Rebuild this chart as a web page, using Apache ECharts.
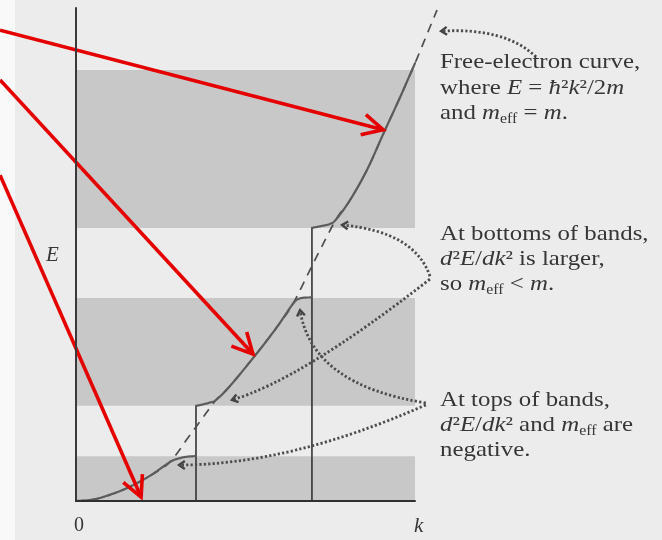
<!DOCTYPE html>
<html>
<head>
<meta charset="utf-8">
<script src="https://cdn.jsdelivr.net/npm/echarts@6/dist/echarts.min.js"></script>
<style>
  html, body { margin: 0; padding: 0; }
  body { width: 662px; height: 540px; background: #ececec; position: relative; overflow: hidden; }
  #strip { position: absolute; left: 0; top: 0; width: 15px; height: 540px; background: #f9f9f9; }
  #chart { position: absolute; left: 0; top: 0; width: 662px; height: 540px; }
</style>
</head>
<body>
<div id="strip"></div>
<div id="chart"></div>
<script>
// Wave number and energy ranges (arbitrary units)
const kMax = 10;
const eMax = 10;

// Allowed energy bands (bottom / top)
const bandBottom = [0, 1.93, 5.54];
const bandTop = [0.91, 4.12, 8.74];

// Zone boundaries and the height of the vertical marker at each
const zoneK = [3.54, 6.96];
const zoneLineTop = [1.93, 5.54];

// E(k) inside each band
const band1K = [0, 0.41, 0.80, 1.50, 2.18, 2.77, 3.07, 3.30, 3.54];
const band1E = [0, 0.02, 0.08, 0.26, 0.51, 0.79, 0.87, 0.90, 0.91];
const band2K = [3.54, 3.75, 3.96, 4.13, 4.54, 5.34, 5.93, 6.40, 6.61, 6.96];
const band2E = [1.93, 1.96, 2.00, 2.05, 2.33, 3.00, 3.53, 4.00, 4.11, 4.13];
const band3K = [6.96, 7.26, 7.49, 7.67, 8.08, 8.58, 9.06, 9.56, 10.0];
const band3E = [5.54, 5.58, 5.62, 5.71, 6.10, 6.71, 7.44, 8.19, 8.88];

// Free-electron curve
const freeK = [0, 0.41, 0.80, 1.50, 2.18, 2.77, 3.30, 3.72, 4.13, 4.54, 5.34, 5.93, 6.40, 7.02, 7.67, 8.08, 8.58, 9.06, 9.56, 10.0, 10.32, 10.65];
const freeE = [0, 0.02, 0.08, 0.26, 0.51, 0.79, 1.28, 1.67, 2.05, 2.33, 3.00, 3.53, 4.00, 4.85, 5.71, 6.10, 6.71, 7.44, 8.19, 8.88, 9.41, 9.96];

// Dotted pointer curves: start, control point, end (k, E)
const pointerStart = [[13.57, 9.01], [10.44, 4.56], [10.44, 4.50], [10.32, 1.99], [10.32, 1.95]];
const pointerCtrl  = [[12.65, 9.61], [10.00, 5.46], [6.61, 2.45], [6.96, 2.35], [6.31, 0.73]];
const pointerEnd   = [[10.77, 9.53], [7.85, 5.60], [4.60, 2.05], [6.61, 3.87], [3.04, 0.73]];

// Red highlight arrows: tail and tip (k, E)
const redTail = [[-2.24, 9.55], [-2.24, 8.54], [-2.24, 6.61]];
const redTip  = [[9.06, 7.53], [5.22, 2.98], [1.92, 0.08]];

const zip = (a, b) => a.map((v, i) => [v, b[i]]);

// Uniform Catmull-Rom interpolation through pixel points
function catmullRom(pts, steps) {
  const out = [pts[0]];
  for (let i = 0; i < pts.length - 1; i++) {
    const p0 = pts[Math.max(i - 1, 0)];
    const p1 = pts[i];
    const p2 = pts[i + 1];
    const p3 = pts[Math.min(i + 2, pts.length - 1)];
    for (let s = 1; s <= steps; s++) {
      const t = s / steps, t2 = t * t, t3 = t2 * t;
      const f = (a, b, c, d) => 0.5 * ((2 * b) + (-a + c) * t + (2 * a - 5 * b + 4 * c - d) * t2 + (-a + 3 * b - 3 * c + d) * t3);
      out.push([f(p0[0], p1[0], p2[0], p3[0]), f(p0[1], p1[1], p2[1], p3[1])]);
    }
  }
  return out;
}

function splineSeries(k, e, style, z) {
  return {
    type: 'custom', z: z, silent: true, clip: false,
    data: zip(k, e),
    renderItem: function (params, api) {
      if (params.dataIndex !== 0) return null;
      const pts = k.map((kv, i) => api.coord([kv, e[i]]));
      return { type: 'polyline', shape: { points: catmullRom(pts, 16) }, style: Object.assign({ fill: null }, style) };
    }
  };
}

const chart = echarts.init(document.getElementById('chart'), null, { renderer: 'canvas' });

const serif = '"Liberation Serif", "Times New Roman", serif';
const textColor = '#363636';
const rich = {
  i: { fontFamily: serif, fontSize: 22, fontStyle: 'italic', fill: textColor },
  sub: { fontFamily: serif, fontSize: 14, fill: textColor, padding: [12, 0, 0, 0] }
};

function textLine(str, x, y) {
  return {
    type: 'text', x: x, y: y, scaleX: 1.13, z: 20,
    style: {
      text: str, rich: rich, fontFamily: serif, fontSize: 22, fill: textColor,
      textVerticalAlign: 'middle', verticalAlign: 'middle'
    }
  };
}

const notes = [
  ['Free-electron curve,', 62],
  ['where {i|E} = {i|ħ}²{i|k}²/2{i|m}', 88],
  ['and {i|m}{sub|eff} = {i|m}.', 113],
  ['At bottoms of bands,', 234],
  ['{i|d}²{i|E}/{i|dk}² is larger,', 259],
  ['so {i|m}{sub|eff} < {i|m}.', 284],
  ['At tops of bands,', 400],
  ['{i|d}²{i|E}/{i|dk}² and {i|m}{sub|eff} are', 425],
  ['negative.', 450]
];

const bandCurveStyle = { stroke: '#5c5c5c', lineWidth: 2.2, lineJoin: 'round', lineCap: 'round' };

const option = {
  animation: false,
  backgroundColor: 'transparent',
  grid: { left: 76, top: 8, width: 339, height: 493 },
  xAxis: {
    type: 'value', min: 0, max: kMax, z: 10,
    axisLine: { show: true, lineStyle: { color: '#303030', width: 2 } },
    axisTick: { show: false }, axisLabel: { show: false }, splitLine: { show: false }
  },
  yAxis: {
    type: 'value', min: 0, max: eMax, z: 10,
    axisLine: { show: true, lineStyle: { color: '#3a3a3a', width: 2 } },
    axisTick: { show: false }, axisLabel: { show: false }, splitLine: { show: false }
  },
  series: [
    {
      type: 'custom', z: 1, silent: true,
      data: zip(bandBottom, bandTop),
      renderItem: function (params, api) {
        const p0 = api.coord([0, api.value(1)]);
        const p1 = api.coord([kMax, api.value(0)]);
        return {
          type: 'rect',
          shape: { x: p0[0], y: p0[1], width: p1[0] - p0[0], height: p1[1] - p0[1] },
          style: { fill: '#c8c8c8' }
        };
      }
    },
    {
      type: 'custom', z: 3, silent: true,
      data: zip(zoneK, zoneLineTop),
      renderItem: function (params, api) {
        const a = api.coord([api.value(0), 0]);
        const b = api.coord([api.value(0), api.value(1)]);
        return {
          type: 'line',
          shape: { x1: a[0], y1: a[1], x2: b[0], y2: b[1] },
          style: { stroke: '#333333', lineWidth: 1.6 }
        };
      }
    },
    splineSeries(freeK, freeE, { stroke: '#4f4f4f', lineWidth: 1.7, lineDash: [9, 7] }, 3),
    splineSeries(band1K, band1E, bandCurveStyle, 4),
    splineSeries(band2K, band2E, bandCurveStyle, 4),
    splineSeries(band3K, band3E, bandCurveStyle, 4),
    {
      type: 'custom', z: 6, silent: true, clip: false,
      data: pointerStart.map((s, i) => [s[0], s[1], pointerCtrl[i][0], pointerCtrl[i][1], pointerEnd[i][0], pointerEnd[i][1]]),
      renderItem: function (params, api) {
        const s = api.coord([api.value(0), api.value(1)]);
        const c = api.coord([api.value(2), api.value(3)]);
        const e = api.coord([api.value(4), api.value(5)]);
        const ang = Math.atan2(e[1] - c[1], e[0] - c[0]);
        const len = 7, half = 0.6;
        const a1 = [e[0] - len * Math.cos(ang - half), e[1] - len * Math.sin(ang - half)];
        const a2 = [e[0] - len * Math.cos(ang + half), e[1] - len * Math.sin(ang + half)];
        return {
          type: 'group',
          children: [
            {
              type: 'bezierCurve',
              shape: { x1: s[0], y1: s[1], x2: e[0], y2: e[1], cpx1: c[0], cpy1: c[1] },
              style: { stroke: '#4c4c4c', lineWidth: 2.8, lineDash: [2.2, 2.2], fill: null }
            },
            {
              type: 'polyline',
              shape: { points: [a1, e, a2] },
              style: { stroke: '#444444', lineWidth: 2.4, fill: null }
            }
          ]
        };
      }
    },
    {
      type: 'custom', z: 8, silent: true, clip: false,
      data: redTail.map((t, i) => [t[0], t[1], redTip[i][0], redTip[i][1]]),
      renderItem: function (params, api) {
        const t = api.coord([api.value(0), api.value(1)]);
        const p = api.coord([api.value(2), api.value(3)]);
        const ang = Math.atan2(p[1] - t[1], p[0] - t[0]);
        const len = 23, half = 0.47;
        const a1 = [p[0] - len * Math.cos(ang - half), p[1] - len * Math.sin(ang - half)];
        const a2 = [p[0] - len * Math.cos(ang + half), p[1] - len * Math.sin(ang + half)];
        return {
          type: 'group',
          children: [
            { type: 'line', shape: { x1: t[0], y1: t[1], x2: p[0], y2: p[1] },
              style: { stroke: '#e50000', lineWidth: 3.6 } },
            { type: 'polyline', shape: { points: [a1, p, a2] },
              style: { stroke: '#e50000', lineWidth: 3.6, fill: null, lineJoin: 'miter' } }
          ]
        };
      }
    }
  ],
  graphic: notes.map(n => textLine(n[0], 440, n[1])).concat([
    { type: 'text', x: 46, y: 255, z: 20,
      style: { text: 'E', fontFamily: serif, fontSize: 21, fontStyle: 'italic', fill: textColor, textVerticalAlign: 'middle', verticalAlign: 'middle' } },
    { type: 'text', x: 74, y: 526, z: 20,
      style: { text: '0', fontFamily: serif, fontSize: 20, fill: textColor, textVerticalAlign: 'middle', verticalAlign: 'middle' } },
    { type: 'text', x: 414, y: 526, z: 20,
      style: { text: 'k', fontFamily: serif, fontSize: 21, fontStyle: 'italic', fill: textColor, textVerticalAlign: 'middle', verticalAlign: 'middle' } }
  ])
};

chart.setOption(option);
</script>
</body>
</html>
